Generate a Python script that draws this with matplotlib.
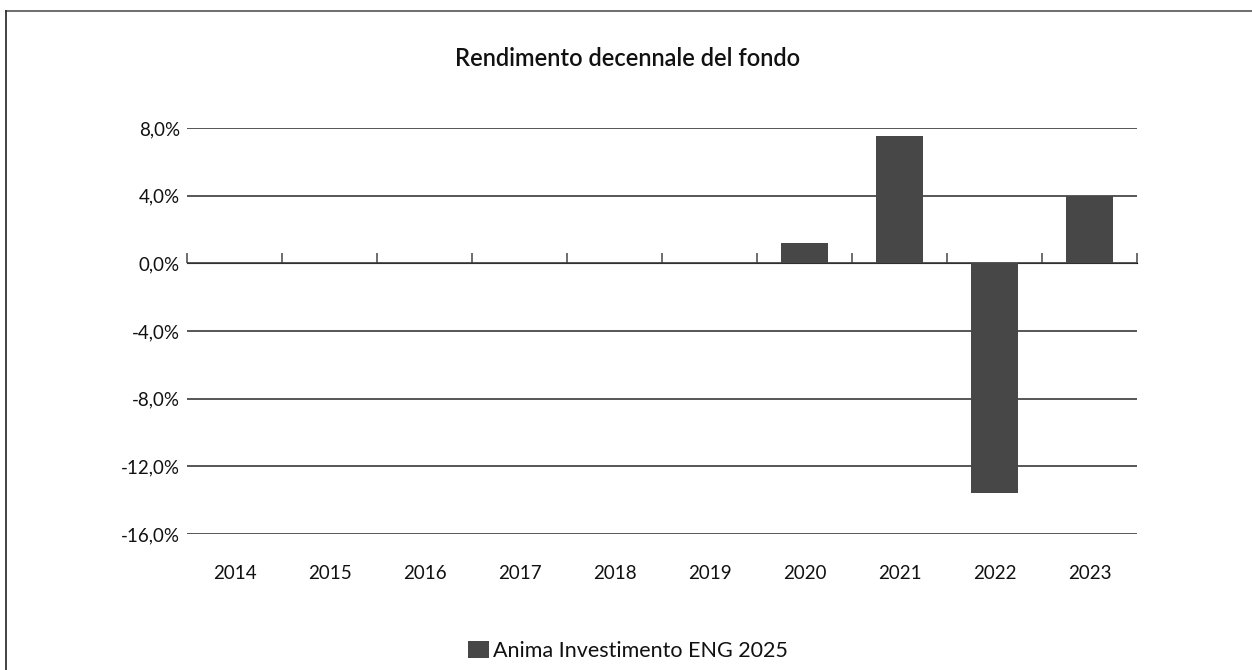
import matplotlib
matplotlib.use("Agg")
import matplotlib.pyplot as plt
from matplotlib.ticker import FuncFormatter
import numpy as np

plt.rcParams['font.family'] = ['Lato', 'DejaVu Sans']

# ── Data ─────────────────────────────────────────────────────────
years   = ["2014", "2015", "2016", "2017", "2018", "2019", "2020", "2021", "2022", "2023"]
returns = [np.nan, np.nan, np.nan, np.nan, np.nan, np.nan, 1.2, 7.5, -13.6, 4.0]
series_name = "Anima Investimento ENG 2025"
y_ticks = [-16, -12, -8, -4, 0, 4, 8]

bar_color  = '#474747'
grid_color = '#3a3a3a'

fig = plt.figure(figsize=(12.52, 6.70), dpi=100)
ax = fig.add_axes([187/1252, 1 - 534/670, 950/1252, 406/670])

x = np.arange(len(years))
ax.bar(x, returns, width=0.5, color=bar_color, label=series_name, zorder=3)

ax.set_xlim(-0.5, len(years) - 0.5)
ax.set_ylim(min(y_ticks), max(y_ticks))
ax.set_yticks(y_ticks)
ax.yaxis.set_major_formatter(FuncFormatter(lambda v, _: f"{v:.1f}%".replace(".", ",")))
ax.set_xticks(x)
ax.set_xticklabels(years)
ax.tick_params(axis='both', length=0, labelsize=13.5, colors='#111111')
ax.tick_params(axis='x', pad=22)
ax.tick_params(axis='y', pad=5)

for s in ax.spines.values():
    s.set_visible(False)
ax.yaxis.grid(True, color=grid_color, lw=1.2, zorder=1)

# zero axis with category separators
zero_ax = ax.secondary_xaxis((0 - min(y_ticks)) / (max(y_ticks) - min(y_ticks)))
zero_ax.set_xticks(np.arange(len(years) + 1) - 0.5)
zero_ax.set_xticklabels([])
zero_ax.tick_params(direction='out', length=7, width=1.2, color='#555555')
zero_ax.spines['bottom'].set_color('#666666')
zero_ax.spines['bottom'].set_linewidth(1.2)

fig.text(628/1252, 1 - 58/670, "Rendimento decennale del fondo",
         ha='center', va='center', fontsize=17, fontweight='semibold', color='#111111')

fig.legend(loc='center', bbox_to_anchor=(628/1252, 1 - 651/670), frameon=False,
           fontsize=15.5, handlelength=0.97, handleheight=0.84, handletextpad=0.2,
           labelcolor='#111111')

# outer frame (top and left edges visible)
fig.add_artist(plt.Line2D([6/1252, 1], [1 - 11/670, 1 - 11/670], transform=fig.transFigure,
                          color='#555555', lw=1.2))
fig.add_artist(plt.Line2D([6/1252, 6/1252], [0, 1 - 11/670], transform=fig.transFigure,
                          color='#222222', lw=1.2))

fig.savefig("out.png", dpi=100)
